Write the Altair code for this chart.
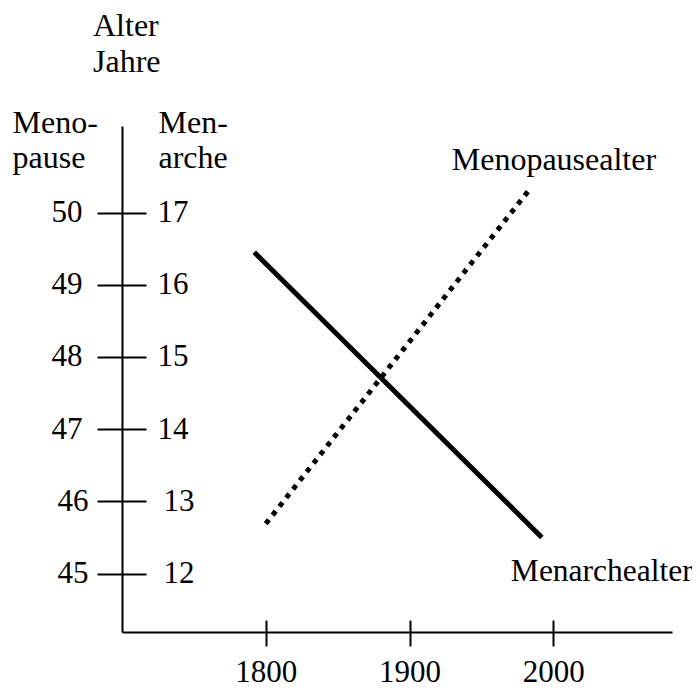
import altair as alt
import pandas as pd

# Data
menarche_years = [1792, 1992]
menarche_age = [16.45, 12.5]
menopause_years = [1800, 1983]
menopause_age = [45.69, 50.31]
x_ticks = [1800, 1900, 2000]
menarche_ticks = [12, 13, 14, 15, 16, 17]
menopause_ticks = [45, 46, 47, 48, 49, 50]

FONT = "Liberation Serif"
FS = 31
FSW = 32

df_men = pd.DataFrame({"Jahr": menarche_years, "Alter": menarche_age})
df_meno = pd.DataFrame({"Jahr": menopause_years, "Alter": menopause_age})
df_men_lab = pd.DataFrame({"Jahr": [menarche_years[-1]], "Alter": [menarche_age[-1]], "t": ["Menarchealter"]})
df_meno_lab = pd.DataFrame({"Jahr": [menopause_years[-1]], "Alter": [menopause_age[-1]], "t": ["Menopausealter"]})

x_scale = alt.Scale(domain=[1700, 2082.5], nice=False, zero=False)
men_scale = alt.Scale(domain=[11.19, 18.2], nice=False, zero=False)
meno_scale = alt.Scale(domain=[44.19, 51.2], nice=False, zero=False)

x_axis_line = alt.Axis(orient="bottom", values=x_ticks, domain=True, domainColor="black", domainWidth=2,
                       ticks=False, labels=False, title=None, grid=False, offset=0)
x_axis_ticks = alt.Axis(orient="bottom", values=x_ticks, format="d", domain=False, ticks=True,
                        tickSize=26, tickWidth=2, tickColor="black", offset=-12,
                        labelFont=FONT, labelFontSize=FS, labelColor="black",
                        labelBaseline="alphabetic", labelPadding=35, title=None, grid=False)

men_axis = alt.Axis(orient="right", offset=-550, values=menarche_ticks, domain=False,
                    ticks=True, tickSize=24, tickWidth=2, tickColor="black",
                    labelFont=FONT, labelFontSize=FS, labelColor="black",
                    labelAlign="left", labelBaseline="middle",
                    labelPadding={"condition": {"test": "datum.value <= 13", "value": 17}, "value": 11},
                    grid=False, title=["Men-", "arche"], titleAngle=0, titleAlign="left",
                    titleBaseline="alphabetic", titleX=36, titleY=6, titleLineHeight=35,
                    titleFont=FONT, titleFontSize=FSW, titleFontWeight="normal", titleColor="black")

meno_axis = alt.Axis(orient="left", values=menopause_ticks, domain=True, domainColor="black",
                     domainWidth=2, ticks=True, tickSize=25, tickWidth=2, tickColor="black",
                     labelFont=FONT, labelFontSize=FS, labelColor="black",
                     labelAlign="right", labelBaseline="middle",
                     labelPadding={"condition": {"test": "datum.value <= 46", "value": 9}, "value": 15},
                     grid=False, title=["Meno-", "pause"], titleAngle=0, titleAlign="left",
                     titleBaseline="alphabetic", titleX=-110, titleY=6, titleLineHeight=35,
                     titleFont=FONT, titleFontSize=FSW, titleFontWeight="normal", titleColor="black")

men_line = alt.Chart(df_men).mark_line(color="black", strokeWidth=5, strokeCap="butt").encode(
    x=alt.X("Jahr:Q", scale=x_scale, axis=x_axis_line),
    y=alt.Y("Alter:Q", scale=men_scale, axis=men_axis),
)
men_text = alt.Chart(df_men_lab).mark_text(font=FONT, fontSize=31.5, color="black", align="left",
                                           baseline="alphabetic", dx=-31, dy=44).encode(
    x=alt.X("Jahr:Q", scale=x_scale, axis=x_axis_line),
    y=alt.Y("Alter:Q", scale=men_scale, axis=men_axis),
    text="t:N",
)
meno_line = alt.Chart(df_meno).mark_line(color="black", strokeWidth=5, strokeCap="butt",
                                         strokeDash=[5, 6]).encode(
    x=alt.X("Jahr:Q", scale=x_scale, axis=x_axis_ticks),
    y=alt.Y("Alter:Q", scale=meno_scale, axis=meno_axis),
)
meno_text = alt.Chart(df_meno_lab).mark_text(font=FONT, fontSize=FSW, color="black", align="center",
                                             baseline="alphabetic", dx=25, dy=-20).encode(
    x=alt.X("Jahr:Q", scale=x_scale, axis=x_axis_ticks),
    y=alt.Y("Alter:Q", scale=meno_scale, axis=meno_axis),
    text="t:N",
)

men_layer = alt.layer(men_line, men_text)
meno_layer = alt.layer(meno_line, meno_text)

chart = alt.layer(men_layer, meno_layer).resolve_scale(y="independent").resolve_axis(
    x="independent", y="independent"
).properties(
    width=550, height=506,
    padding={"left": 114, "top": 118, "right": 20, "bottom": 55},
    autosize=alt.AutoSizeParams(type="none"),
    background="white",
    title=alt.TitleParams(text=["Alter", "Jahre"], anchor="start", frame="group", align="left",
                          font=FONT, fontSize=FSW, fontWeight="normal", color="black",
                          lineHeight=36, dx=-29, offset=27),
).configure_view(stroke="transparent", strokeWidth=0)

chart.save("out.html", embed_options={"renderer": "svg", "actions": False})
